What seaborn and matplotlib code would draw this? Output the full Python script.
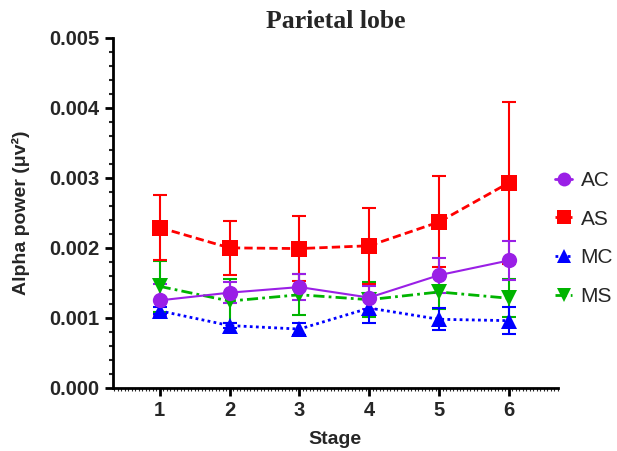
import pandas as pd
import seaborn as sns
import matplotlib.pyplot as plt
from matplotlib.ticker import MultipleLocator

# Dados (potência alfa, lobo parietal)
stages = [1, 2, 3, 4, 5, 6]
groups = ["AC", "AS", "MC", "MS"]
ac_mean = [0.00125, 0.00136, 0.00144, 0.00129, 0.00161, 0.00182]
ac_err = [0.00023, 0.00015, 0.00019, 0.00016, 0.00025, 0.00028]
as_mean = [0.00229, 0.00200, 0.00199, 0.00203, 0.00237, 0.00293]
as_err = [0.00046, 0.00039, 0.00046, 0.00054, 0.00065, 0.00116]
mc_mean = [0.00110, 0.00089, 0.00084, 0.00114, 0.00098, 0.00096]
mc_err = [0.00005, 0.00004, 0.00009, 0.00022, 0.00016, 0.00019]
ms_mean = [0.00145, 0.00124, 0.00133, 0.00126, 0.00137, 0.00128]
ms_err = [0.00036, 0.00032, 0.00029, 0.00025, 0.00024, 0.00027]

means = {"AC": ac_mean, "AS": as_mean, "MC": mc_mean, "MS": ms_mean}
errs = {"AC": ac_err, "AS": as_err, "MC": mc_err, "MS": ms_err}

df = pd.concat([
    pd.DataFrame({"stage": stages, "power": means[g], "err": errs[g], "group": g})
    for g in groups
])

cores = {"AC": "#9A1FE6", "AS": "#FF0000", "MC": "#0000FF", "MS": "#00B400"}
marcadores = {"AC": "o", "AS": "s", "MC": "^", "MS": "v"}
estilos = {"AC": "-", "AS": (0, (3, 1.5)), "MC": (0, (1, 1.2)), "MS": (0, (4, 1.5, 1, 1.5))}

sns.set_style("ticks")
plt.rcParams["font.family"] = ["Liberation Sans", "DejaVu Sans"]

fig = plt.figure(figsize=(6.17, 4.51), dpi=100)
ax = fig.add_axes([0.183, 0.14, 0.721, 0.776])

ordem = ["MS", "MC", "AS", "AC"]
for g in ordem:
    sub = df[df["group"] == g]
    ax.errorbar(sub["stage"], sub["power"], yerr=sub["err"], fmt="none",
                ecolor=cores[g], elinewidth=1.5, capsize=5, capthick=1.5, zorder=2)
    sns.lineplot(data=sub, x="stage", y="power", ax=ax, color=cores[g],
                 marker=marcadores[g], markersize=11, markeredgewidth=0,
                 linewidth=2 if g != "AC" else 1.5, linestyle=estilos[g],
                 errorbar=None, legend=False, zorder=3)

ax.set_xlim(0.33, 6.7)
ax.set_ylim(0, 0.005)
ax.set_xticks(stages)
ax.set_yticks([0, 0.001, 0.002, 0.003, 0.004, 0.005])
ax.set_yticklabels(["0.000", "0.001", "0.002", "0.003", "0.004", "0.005"])
ax.yaxis.set_minor_locator(MultipleLocator(0.0002))
ax.xaxis.set_minor_locator(MultipleLocator(0.05))
ax.tick_params(axis="both", which="major", labelsize=14.5, width=2, length=6, color="black")
ax.tick_params(axis="y", which="minor", width=1.5, length=3)
ax.tick_params(axis="x", which="minor", width=0.8, length=2)
for lab in ax.get_xticklabels() + ax.get_yticklabels():
    lab.set_fontweight("bold")
for s in ["left", "bottom"]:
    ax.spines[s].set_linewidth(2)
    ax.spines[s].set_color("black")
sns.despine(ax=ax)

ax.set_xlabel("Stage", fontsize=14, fontweight="bold", labelpad=8)
ax.set_ylabel("Alpha power (μv²)", fontsize=14, fontweight="bold", labelpad=14)
ax.set_title("Parietal lobe", fontsize=18.5, fontweight="bold",
             family=["Liberation Serif", "DejaVu Serif"], pad=7)

handles = [plt.Line2D([], [], color=cores[g], marker=marcadores[g], markersize=10,
                      markeredgewidth=0, linestyle=estilos[g], linewidth=2)
           for g in groups]
fig.legend(handles, groups, loc="center left", bbox_to_anchor=(0.88, 0.471),
           frameon=False, fontsize=15, handlelength=0.8, handletextpad=0.4,
           labelspacing=0.95, borderaxespad=0.2)

plt.savefig("out.png", dpi=100)
plt.close()
